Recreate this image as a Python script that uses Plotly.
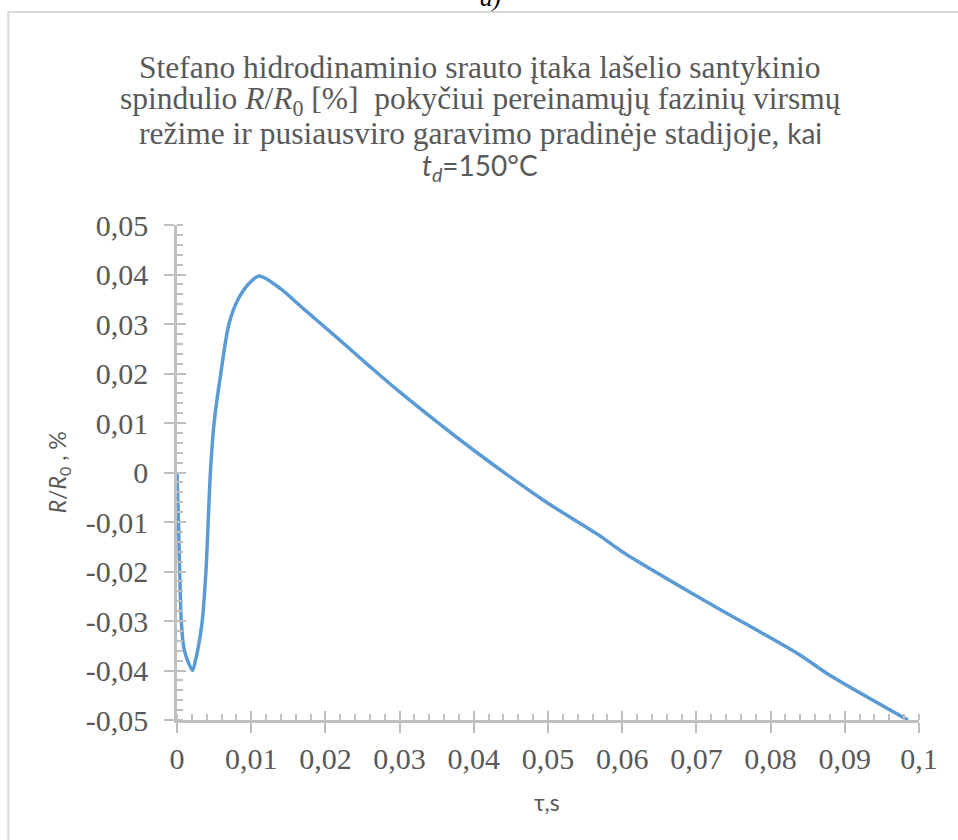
import plotly.graph_objects as go

# Data
tau_s = [0, 0.0002, 0.00036, 0.00058, 0.0009, 0.0014, 0.0021, 0.0025, 0.0029, 0.0034,
         0.0039, 0.0042, 0.0045, 0.0050, 0.0059, 0.0070, 0.0083, 0.0099, 0.0111,
         0.0139, 0.0171, 0.0216, 0.0260, 0.0300, 0.0400, 0.0500, 0.0568, 0.0600,
         0.0710, 0.0840, 0.0876, 0.0985]
r_ratio = [0, -0.010, -0.020, -0.030, -0.0352, -0.0379, -0.0400, -0.0379, -0.035, -0.030,
           -0.020, -0.010, 0.000, 0.010, 0.020, 0.030, 0.0352, 0.0385, 0.0397,
           0.0372, 0.0330, 0.0272, 0.0214, 0.0163, 0.0045, -0.0062, -0.0126, -0.0160,
           -0.0258, -0.0369, -0.0406, -0.0500]

x_range = [0, 0.1]
y_range = [-0.05, 0.05]
x_tick_vals = [0, 0.01, 0.02, 0.03, 0.04, 0.05, 0.06, 0.07, 0.08, 0.09, 0.1]
x_tick_text = ["0", "0,01", "0,02", "0,03", "0,04", "0,05", "0,06", "0,07", "0,08", "0,09", "0,1"]
y_tick_vals = [-0.05, -0.04, -0.03, -0.02, -0.01, 0, 0.01, 0.02, 0.03, 0.04, 0.05]
y_tick_text = ["-0,05", "-0,04", "-0,03", "-0,02", "-0,01", "0", "0,01", "0,02", "0,03", "0,04", "0,05"]
minor_dtick = 0.002

GREY_TXT = "#595959"
AXIS_CLR = "#BFBFBF"
SERIF = "Liberation Serif, Times New Roman, serif"
SANS = "Lato, Calibri, sans-serif"

# plot area in pixels
L, R, T, B = 176.7, 39, 225, 120
W, H = 958, 840
pw, ph = W - L - R, H - T - B

def px_x(p):
    return (p - L) / pw

def px_y(p):
    return (H - B - p) / ph

fig = go.Figure()
fig.add_trace(go.Scatter(
    x=tau_s, y=r_ratio, mode="lines",
    line=dict(color="#5B9BD5", width=3.5, shape="spline", smoothing=0.8),
    showlegend=False, hoverinfo="x+y"))
# invisible companion trace so the overlay axes (inner halves of major ticks) render
fig.add_trace(go.Scatter(
    x=tau_s, y=r_ratio, mode="lines", xaxis="x2", yaxis="y2",
    line=dict(color="rgba(0,0,0,0)", width=0), showlegend=False, hoverinfo="skip"))

common_minor = dict(ticks="inside", ticklen=6, tickwidth=2, tickcolor=AXIS_CLR, showgrid=False)

fig.update_layout(
    width=W, height=H,
    margin=dict(l=L, r=R, t=T, b=B),
    paper_bgcolor="white", plot_bgcolor="white",
    xaxis=dict(range=x_range, tickmode="array", tickvals=x_tick_vals, ticktext=x_tick_text,
               ticks="outside", ticklen=10, tickwidth=2, tickcolor=AXIS_CLR,
               showline=True, linecolor=AXIS_CLR, linewidth=2.5, showgrid=False,
               zeroline=False, tickfont=dict(family=SERIF, size=30, color=GREY_TXT),
               ticklabelstandoff=0,
               minor=dict(tick0=0, dtick=minor_dtick, **common_minor)),
    yaxis=dict(range=y_range, tickmode="array", tickvals=y_tick_vals, ticktext=y_tick_text,
               ticks="outside", ticklen=10, tickwidth=2, tickcolor=AXIS_CLR,
               showline=True, linecolor=AXIS_CLR, linewidth=2.5, showgrid=False,
               zeroline=False, tickfont=dict(family=SERIF, size=30, color=GREY_TXT),
               ticklabelstandoff=10,
               minor=dict(tick0=0, dtick=minor_dtick, **common_minor)),
    xaxis2=dict(range=x_range, tickmode="array", tickvals=x_tick_vals, ticks="inside",
                ticklen=9, tickwidth=2, tickcolor=AXIS_CLR, showticklabels=False,
                showline=False, showgrid=False, zeroline=False, overlaying="x",
                anchor="y2", side="bottom"),
    yaxis2=dict(range=y_range, tickmode="array", tickvals=y_tick_vals, ticks="inside",
                ticklen=9, tickwidth=2, tickcolor=AXIS_CLR, showticklabels=False,
                showline=False, showgrid=False, zeroline=False, overlaying="y",
                anchor="x2", side="left"),
)

title_lines = [
    "Stefano hidrodinaminio srauto įtaka lašelio santykinio",
    "spindulio <i>R</i>/<i>R</i><sub>0</sub> [%]  pokyčiui pereinamųjų fazinių virsmų",
    f"režime ir pusiausviro garavimo pradinėje stadijoje, <span style='font-family:{SANS};font-size:28px'>kai</span>",
    f"<span style='font-family:{SANS};font-size:28px'><i>t</i><sub><i>d</i></sub>=150°C</span>",
]
title_y = [68, 101, 134, 167]
for txt, yy in zip(title_lines, title_y):
    fig.add_annotation(text=txt, xref="paper", yref="paper",
                       x=px_x(480), y=px_y(yy), xanchor="center", yanchor="middle",
                       showarrow=False, align="center",
                       font=dict(family=SERIF, size=31.5, color=GREY_TXT))

fig.add_annotation(text="<i>R</i>/<i>R</i><sub>0</sub> , %", xref="paper", yref="paper",
                   x=px_x(58), y=px_y(472), xanchor="center", yanchor="middle",
                   textangle=-90, showarrow=False,
                   font=dict(family=SANS, size=23, color=GREY_TXT))
fig.add_annotation(text="τ,s", xref="paper", yref="paper",
                   x=px_x(547), y=px_y(802), xanchor="center", yanchor="middle",
                   showarrow=False, font=dict(family=SANS, size=23, color=GREY_TXT))
fig.add_annotation(text="<i>a)</i>", xref="paper", yref="paper",
                   x=px_x(490), y=px_y(14), xanchor="center", yanchor="bottom",
                   showarrow=False, font=dict(family=SERIF, size=25, color="#000000"))

# chart frame
fig.add_shape(type="rect", xref="paper", yref="paper",
              x0=px_x(8), x1=px_x(970), y0=px_y(860), y1=px_y(12),
              line=dict(color="#D9D9D9", width=2), fillcolor="rgba(0,0,0,0)", layer="below")

fig.write_html("out.html")
